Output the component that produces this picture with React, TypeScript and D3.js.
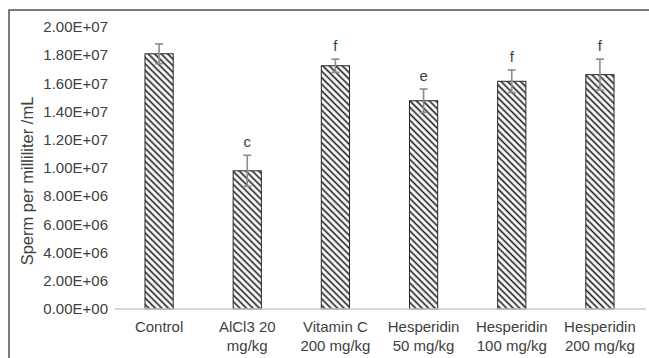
import React, { useEffect, useRef } from "react";
import * as d3 from "d3";

const categories = [
  ["Control"],
  ["AlCl3 20", "mg/kg"],
  ["Vitamin C", "200 mg/kg"],
  ["Hesperidin", "50 mg/kg"],
  ["Hesperidin", "100 mg/kg"],
  ["Hesperidin", "200 mg/kg"],
];
const spermCounts = [1.81e7, 9.8e6, 1.725e7, 1.477e7, 1.615e7, 1.662e7];
const errors = [7e5, 1.1e6, 4.7e5, 8.3e5, 8e5, 1.1e6];
const letters = ["", "c", "f", "e", "f", "f"];
const yTicks = [0, 2e6, 4e6, 6e6, 8e6, 1e7, 1.2e7, 1.4e7, 1.6e7, 1.8e7, 2e7];

const W = 649;
const H = 358;
const textColor = "#404040";

const App = () => {
  const ref = useRef<SVGSVGElement>(null);

  useEffect(() => {
    const svg = d3.select(ref.current);
    svg.selectAll("*").remove();

    const font = "'Liberation Sans', Arial, sans-serif";

    // hatch fill for the bars (downward diagonal)
    const defs = svg.append("defs");
    const pat = defs
      .append("pattern")
      .attr("id", "hatch")
      .attr("patternUnits", "userSpaceOnUse")
      .attr("width", 4.6)
      .attr("height", 4.6)
      .attr("patternTransform", "rotate(45)");
    pat.append("rect").attr("width", 4.6).attr("height", 4.6).attr("fill", "white");
    pat
      .append("line")
      .attr("x1", 0)
      .attr("x2", 4.6)
      .attr("y1", 2.3)
      .attr("y2", 2.3)
      .attr("stroke", "#1a1a1a")
      .attr("stroke-width", 1.6);

    // outer chart frame (cut off at right and bottom)
    svg
      .append("rect")
      .attr("x", 9)
      .attr("y", 10)
      .attr("width", W + 20)
      .attr("height", H + 20)
      .attr("fill", "white")
      .attr("stroke", "#262626")
      .attr("stroke-width", 1.2);

    const x = d3
      .scaleBand()
      .domain(categories.map((d, i) => String(i)))
      .range([115, 644])
      .paddingInner(0.68)
      .paddingOuter(0.34);
    const y = d3.scaleLinear().domain([0, 2e7]).range([309, 27]);

    // y tick labels
    svg
      .append("g")
      .selectAll("text")
      .data(yTicks)
      .join("text")
      .attr("x", 108)
      .attr("y", (d) => y(d))
      .attr("dy", "0.35em")
      .attr("text-anchor", "end")
      .style("font-family", font)
      .style("font-size", "15px")
      .style("fill", textColor)
      .text((d) => d3.format(".2e")(d).replace("e", "E").replace(/E([+-])(\d)$/, "E$10$2").toUpperCase());

    // y title
    svg
      .append("text")
      .attr("transform", "translate(33,181) rotate(-90)")
      .attr("text-anchor", "middle")
      .style("font-family", font)
      .style("font-size", "16.5px")
      .style("fill", textColor)
      .text("Sperm per milliliter /mL");

    // bars
    svg
      .append("g")
      .selectAll("rect")
      .data(spermCounts)
      .join("rect")
      .attr("x", (d, i) => x(String(i))!)
      .attr("y", (d) => y(d))
      .attr("width", x.bandwidth())
      .attr("height", (d) => y(0) - y(d))
      .attr("fill", "url(#hatch)")
      .attr("stroke", "#262626")
      .attr("stroke-width", 1);

    // x axis line
    svg
      .append("line")
      .attr("x1", 115)
      .attr("x2", 646)
      .attr("y1", y(0))
      .attr("y2", y(0))
      .attr("stroke", "#c8c8c8")
      .attr("stroke-width", 1.5);

    // error bars
    const eb = svg
      .append("g")
      .attr("stroke", "#8c8c8c")
      .attr("stroke-width", 1.6);
    spermCounts.forEach((v, i) => {
      const cx = x(String(i))! + x.bandwidth() / 2;
      eb.append("line")
        .attr("x1", cx)
        .attr("x2", cx)
        .attr("y1", y(v - errors[i]))
        .attr("y2", y(v + errors[i]));
      [v - errors[i], v + errors[i]].forEach((e) => {
        eb.append("line")
          .attr("x1", cx - 4)
          .attr("x2", cx + 4)
          .attr("y1", y(e))
          .attr("y2", y(e));
      });
    });

    // significance letters
    svg
      .append("g")
      .selectAll("text")
      .data(letters)
      .join("text")
      .attr("x", (d, i) => x(String(i))! + x.bandwidth() / 2)
      .attr("y", (d, i) => y(spermCounts[i] + errors[i]) - 8)
      .attr("text-anchor", "middle")
      .style("font-family", font)
      .style("font-size", "15px")
      .style("fill", textColor)
      .text((d) => d);

    // category labels
    const cat = svg
      .append("g")
      .selectAll("text")
      .data(categories)
      .join("text")
      .attr("text-anchor", "middle")
      .style("font-family", font)
      .style("font-size", "15px")
      .style("fill", textColor);
    cat
      .selectAll("tspan")
      .data((d, i) => d.map((t) => ({ t, i })))
      .join("tspan")
      .attr("x", (d) => x(String(d.i))! + x.bandwidth() / 2)
      .attr("y", (d, j) => 332 + j * 19)
      .text((d) => d.t);
  }, []);

  return (
    <svg
      ref={ref}
      width={W}
      height={H}
      style={{ position: "absolute", left: 0, top: 0, background: "white" }}
    />
  );
};

export default App;
